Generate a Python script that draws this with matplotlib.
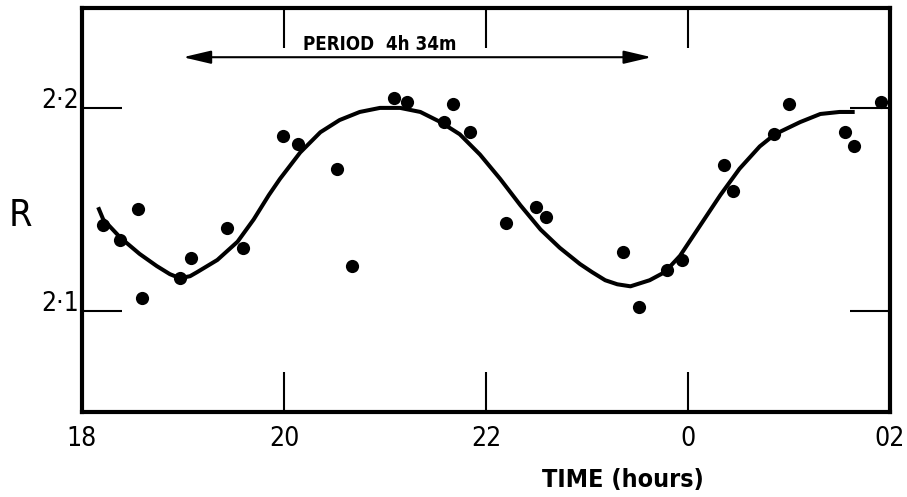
import matplotlib

matplotlib.use("Agg")
import matplotlib.pyplot as plt
from matplotlib import font_manager

# observed R values (time in hours; 24 = midnight, 26 = 02h)
time_h = [18.21, 18.38, 18.55, 18.59, 18.97, 19.08, 19.44, 19.59, 19.99, 20.14,
          20.52, 20.67, 21.09, 21.22, 21.58, 21.67, 21.84, 22.20, 22.49, 22.59,
          23.36, 23.51, 23.79, 23.94, 24.36, 24.45, 24.85, 25.00, 25.55, 25.64,
          25.91]
r_vals = [2.142, 2.135, 2.150, 2.106, 2.116, 2.126, 2.141, 2.131, 2.186, 2.182,
          2.170, 2.122, 2.205, 2.203, 2.193, 2.202, 2.188, 2.143, 2.151, 2.146,
          2.129, 2.102, 2.120, 2.125, 2.172, 2.159, 2.187, 2.202, 2.188, 2.181,
          2.203]

# hand-drawn fit curve, traced
curve_t = [18.16, 18.21, 18.38, 18.57, 18.74, 18.87, 18.97, 19.07, 19.14, 19.34,
           19.54, 19.70, 19.85, 19.96, 20.16, 20.36, 20.55, 20.75, 20.95, 21.15,
           21.35, 21.55, 21.74, 21.94, 22.14, 22.34, 22.54, 22.73, 22.93, 23.05,
           23.18, 23.30, 23.43, 23.62, 23.77, 23.92, 24.12, 24.32, 24.51, 24.71,
           24.86, 25.11, 25.31, 25.50, 25.65]
curve_r = [2.151, 2.145, 2.136, 2.128, 2.122, 2.118, 2.116, 2.117, 2.119, 2.125,
           2.134, 2.145, 2.157, 2.165, 2.178, 2.188, 2.194, 2.198, 2.200, 2.200,
           2.198, 2.193, 2.187, 2.177, 2.165, 2.152, 2.140, 2.131, 2.123, 2.119,
           2.115, 2.113, 2.112, 2.115, 2.119, 2.127, 2.142, 2.157, 2.170, 2.181,
           2.187, 2.193, 2.197, 2.198, 2.198]

x_ticks = [18, 20, 22, 24, 26]
x_labels = ["18", "20", "22", "0", "02"]
y_ticks = [2.1, 2.2]
y_labels = ["2·1", "2·2"]

period_start, period_end = 19.0, 23.64
period_text = "PERIOD  4h 34m"

plt.rcParams["font.family"] = ["DejaVu Sans"]
has_cond = any(f.name == "DejaVu Sans" and f.stretch == "condensed"
               for f in font_manager.fontManager.ttflist)
if has_cond:
    plt.rcParams["font.stretch"] = "condensed"

fig = plt.figure(figsize=(9.07, 4.97), dpi=100)
ax = fig.add_axes([0.0904, 0.171, 0.8909, 0.813])

ax.plot(curve_t, curve_r, color="black", lw=2.9, solid_capstyle="butt",
        solid_joinstyle="round")
ax.plot(time_h, r_vals, "o", color="black", ms=9.5, mec="none")

ax.annotate("", xy=(period_end, 2.225), xytext=(period_start, 2.225),
            arrowprops=dict(arrowstyle="<|-|>,head_length=0.85,head_width=0.2",
                            color="black", lw=1.5, shrinkA=0, shrinkB=0,
                            mutation_scale=20))
ax.text(20.19, 2.2315, period_text, ha="left", va="center", fontsize=13.5,
        fontweight="bold")

ax.set_xlim(18, 26)
ax.set_ylim(2.05, 2.2493)
ax.set_xticks(x_ticks)
ax.set_xticklabels(x_labels, fontsize=19)
ax.set_yticks(y_ticks)
ax.set_yticklabels(y_labels, fontsize=19)
for lab in ax.get_yticklabels():
    lab.set_va("baseline")
ax.tick_params(axis="x", direction="in", length=29, width=1.5, top=True, pad=10)
ax.tick_params(axis="y", direction="in", length=29, width=1.5, right=True, pad=2)
for sp in ax.spines.values():
    sp.set_linewidth(3)

fig.text(0.009, 0.565, "R", fontsize=27, ha="left", va="center")
fig.text(0.687, 0.034, "TIME (hours)", fontsize=18, ha="center", va="center",
         fontweight="bold")

fig.savefig("out.png", dpi=100)
